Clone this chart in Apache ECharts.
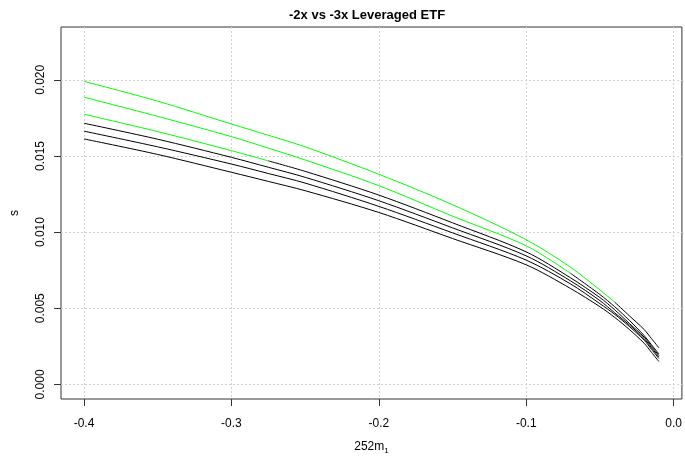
<!DOCTYPE html>
<html><head><meta charset="utf-8">
<script src="https://cdn.jsdelivr.net/npm/echarts@6/dist/echarts.min.js"></script>
<style>html,body{margin:0;padding:0;background:#fff}#c{width:685px;height:460px}</style>
</head><body><div id="c"></div>
<script>
var xs = [-0.4,-0.35,-0.3,-0.275,-0.25,-0.2,-0.15,-0.1,-0.07,-0.05,-0.04,-0.03,-0.02,-0.015,-0.01];
var g1 = [0.0199,0.0186,0.0171,0.01636,0.0156,0.0138,0.0118,0.0095,0.0077,0.0062,0.0054,0.0045,0.0036,0.0030,0.0024];
var g2 = [0.01886,0.0176,0.01627,0.01552,0.01474,0.01305,0.01105,0.0091,0.0073,0.0059,0.0051,0.0042,0.0032,0.0026,0.0020];
var g3 = [0.01774,0.0166,0.01535,0.01468,0.01399,0.01243,0.01061,0.0087,0.0070,0.0057,0.0049,0.0040,0.0031,0.0025,0.0019];
var b1 = [0.01715,0.0161,0.01491,0.01426,0.0136,0.01206,0.01028,0.00844,0.0068,0.0055,0.0047,0.0039,0.0030,0.0024,0.0018];
var b2 = [0.01663,0.0156,0.01447,0.01385,0.01322,0.01169,0.00995,0.00816,0.0066,0.0053,0.0046,0.0038,0.0029,0.0023,0.0017];
var b3 = [0.01612,0.0151,0.01393,0.01333,0.01272,0.01129,0.00958,0.00785,0.0063,0.0051,0.0044,0.0036,0.0027,0.0021,0.0015];
// x at which each -3x curve stops being drawn green
var greenEndX = [-0.04, -0.07, -0.275];
var xTicks = [-0.4,-0.3,-0.2,-0.1,0.0];
var yTicks = [0,0.005,0.01,0.015,0.02];

var GREEN = '#00ff00', BLACK = '#000000';
function mk(d, color){
  return { type:'line', data:d, showSymbol:false, smooth:0.3,
           lineStyle:{width:1, color:color}, itemStyle:{color:color}, silent:true };
}
var series = [];
[g1, g2, g3].forEach(function(c, i){
  var gd = [], bd = [];
  xs.forEach(function(x, j){
    if (x <= greenEndX[i] + 1e-9) gd.push([x, c[j]]);
    if (x >= greenEndX[i] - 1e-9) bd.push([x, c[j]]);
  });
  series.push(mk(gd, GREEN));
  series.push(mk(bd, BLACK));
});
[b1, b2, b3].forEach(function(c){
  series.push(mk(xs.map(function(x, j){ return [x, c[j]]; }), BLACK));
});
var font = 'Liberation Sans, Arial, sans-serif';
var chart = echarts.init(document.getElementById('c'), null, {renderer:'canvas'});
chart.setOption({
  animation:false,
  title:{ text:'-2x vs -3x Leveraged ETF', left:284, top:4,
          textStyle:{fontFamily:font, fontSize:13, fontWeight:'bold', color:'#000'} },
  grid:{ left:61, right:1, top:27, bottom:60, show:true, borderColor:'#333', borderWidth:1, backgroundColor:'transparent' },
  xAxis:{ type:'value', min:-0.4156, max:0.0056,
          name:'252m{s|1}', nameLocation:'middle', nameGap:40,
          nameTextStyle:{fontFamily:font, fontSize:12, color:'#000', rich:{s:{fontSize:8, padding:[8,0,0,0], fontFamily:font}}},
          axisLine:{show:false, onZero:false},
          axisTick:{show:true, length:7, lineStyle:{color:'#333'}, customValues:xTicks},
          axisLabel:{customValues:xTicks, margin:19, fontFamily:font, fontSize:12, color:'#000',
                     formatter:function(v){ return v.toFixed(1); }},
          splitLine:{show:true, lineStyle:{color:'#d3d3d3', type:[2,2], width:1}} },
  yAxis:{ type:'value', min:-0.00096, max:0.02347,
          name:'s', nameLocation:'middle', nameGap:40, nameRotate:90,
          nameTextStyle:{fontFamily:font, fontSize:12, color:'#000'},
          axisLine:{show:false, onZero:false},
          axisTick:{show:true, length:7, lineStyle:{color:'#333'}, customValues:yTicks},
          axisLabel:{customValues:yTicks, rotate:90, margin:14, fontFamily:font, fontSize:12, color:'#000',
                     formatter:function(v){ return v.toFixed(3); }},
          splitLine:{show:true, lineStyle:{color:'#d3d3d3', type:[2,2], width:1}} },
  series: series
});
</script></body></html>
